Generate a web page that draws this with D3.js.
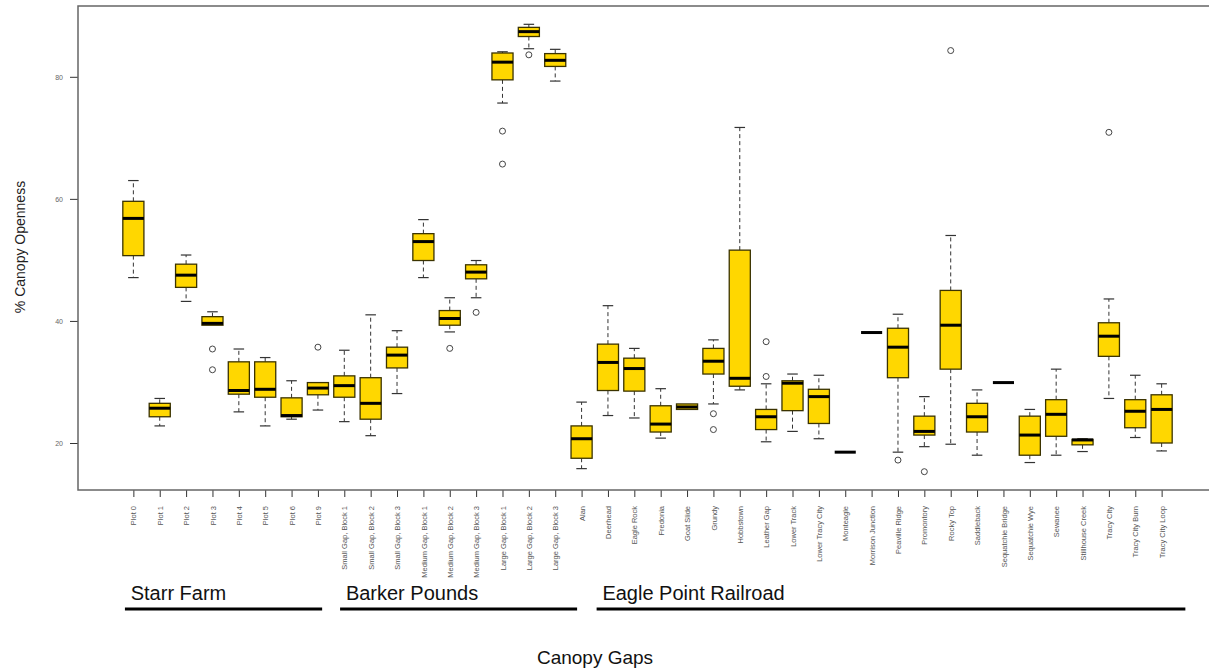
<!DOCTYPE html>
<html>
<head>
<meta charset="utf-8">
<script src="https://cdn.jsdelivr.net/npm/d3@7"></script>
<style>
  body { margin: 0; background: #fff; }
  svg { display: block; font-family: "Liberation Sans", Arial, sans-serif; }
</style>
</head>
<body>
<svg id="chart" width="1209" height="671"></svg>
<script>
const categories = ["Plot 0", "Plot 1", "Plot 2", "Plot 3", "Plot 4", "Plot 5", "Plot 6", "Plot 9",
  "Small Gap, Block 1", "Small Gap, Block 2", "Small Gap, Block 3",
  "Medium Gap, Block 1", "Medium Gap, Block 2", "Medium Gap, Block 3",
  "Large Gap, Block 1", "Large Gap, Block 2", "Large Gap, Block 3",
  "Alan", "Deerhead", "Eagle Rock", "Fredonia", "Goat Slide", "Grundy", "Hobbstown",
  "Leather Gap", "Lower Track", "Lower Tracy City", "Monteagle", "Morrison Junction",
  "Peaville Ridge", "Promontory", "Rocky Top", "Saddleback", "Sequatchie Bridge",
  "Sequatchie Wye", "Sewanee", "Stillhouse Creek", "Tracy City", "Tracy City Burn", "Tracy City Loop"]

const whiskerLow = [47.1, 22.8, 43.2, 39.3, 25.1, 22.8, 23.9, 25.4,
  23.5, 21.2, 28.1, 47.1, 38.2, 43.8, 75.7, 84.6, 79.3,
  15.8, 24.5, 24.1, 20.8, 25.5, 26.4, 28.7, 20.2, 21.9, 20.7, 18.5, 38.1,
  18.5, 19.4, 19.8, 18.0, 29.9, 16.8, 18.0, 18.6, 27.3, 20.9, 18.7]
const q1 = [50.7, 24.3, 45.5, 39.3, 28.0, 27.5, 24.3, 27.9,
  27.5, 23.9, 32.3, 49.9, 39.3, 46.9, 79.5, 86.6, 81.7,
  17.5, 28.6, 28.5, 21.8, 25.5, 31.3, 29.3, 22.2, 25.3, 23.2, 18.5, 38.1,
  30.7, 21.3, 32.1, 21.8, 29.9, 18.0, 21.1, 19.7, 34.2, 22.5, 20.0]
const medians = [56.8, 25.7, 47.5, 39.6, 28.6, 28.8, 24.5, 29.0,
  29.4, 26.5, 34.4, 53.0, 40.4, 48.0, 82.4, 87.4, 82.7,
  20.7, 33.2, 32.2, 23.1, 25.9, 33.4, 30.6, 24.3, 29.8, 27.6, 18.5, 38.1,
  35.7, 21.9, 39.3, 24.3, 29.9, 21.3, 24.7, 20.5, 37.5, 25.2, 25.5]
const q3 = [59.6, 26.5, 49.3, 40.7, 33.3, 33.3, 27.4, 29.9,
  31.0, 30.7, 35.7, 54.3, 41.7, 49.2, 83.9, 88.1, 83.8,
  22.8, 36.2, 33.9, 26.1, 26.4, 35.5, 51.6, 25.5, 30.2, 28.8, 18.5, 38.1,
  38.8, 24.4, 45.0, 26.5, 29.9, 24.4, 27.1, 20.6, 39.7, 27.1, 27.9]
const whiskerHigh = [63.0, 27.3, 50.8, 41.5, 35.4, 34.0, 30.2, 29.9,
  35.2, 41.0, 38.4, 56.6, 43.8, 49.9, 84.1, 88.6, 84.5,
  26.7, 42.5, 35.5, 28.9, 26.4, 36.9, 71.7, 29.7, 31.3, 31.1, 18.5, 38.1,
  41.1, 27.6, 54.0, 28.7, 29.9, 25.5, 32.1, 20.7, 43.6, 31.1, 29.7]
const outliers = [[], [], [], [35.4, 32.0], [], [], [], [35.7],
  [], [], [], [], [35.5], [41.4], [71.1, 65.7], [83.6], [],
  [], [], [], [], [], [24.8, 22.2], [], [36.6, 30.9], [], [], [], [],
  [17.2], [15.3], [84.3], [], [], [], [], [], [70.9], [], []]

const yTicks = [20, 40, 60, 80]

const groupNames = ["Starr Farm", "Barker Pounds", "Eagle Point Railroad"]
// underline extents in category-index units (hand drawn in the original)
const groupSpans = [[-0.32, 7.16], [7.84, 16.83], [17.57, 39.9]]

const svg = d3.select("#chart")
svg.append("rect").attr("width", 1209).attr("height", 671).attr("fill", "#fff")

const m = {left: 78, top: 6, right: 1217, bottom: 490}

const x = d3.scaleLinear().domain([-2.1, categories.length + 1.1]).range([m.left, m.right])
const y = d3.scaleLinear().domain([12.3, 91.6]).range([m.bottom, m.top])
const step = x(1) - x(0)
const boxW = step * 0.8

// axes
const xAxis = svg.append("g")
  .attr("transform", `translate(0,${m.bottom})`)
  .call(d3.axisBottom(x)
    .tickValues(d3.range(categories.length))
    .tickFormat(i => categories[i])
    .tickSize(7)
    .tickPadding(0))
xAxis.select(".domain").remove()
xAxis.selectAll(".tick line").attr("stroke", "#333")
xAxis.selectAll(".tick text")
  .attr("transform", "rotate(-90)")
  .attr("x", -16)
  .attr("y", 0)
  .attr("dy", "0.35em")
  .attr("text-anchor", "end")
  .attr("fill", "#555")
  .style("font-size", "7.5px")
  .style("font-family", "'Liberation Sans', Arial, sans-serif")

const yAxis = svg.append("g")
  .attr("transform", `translate(${m.left},0)`)
  .call(d3.axisLeft(y).tickValues(yTicks).tickSize(8).tickPadding(7))
yAxis.select(".domain").remove()
yAxis.selectAll(".tick line").attr("stroke", "#333")
yAxis.selectAll(".tick text")
  .attr("fill", "#666")
  .style("font-size", "7px")
  .style("font-family", "'Liberation Sans', Arial, sans-serif")

// plot frame
svg.append("rect")
  .attr("x", m.left).attr("y", m.top)
  .attr("width", m.right - m.left).attr("height", m.bottom - m.top)
  .attr("fill", "none").attr("stroke", "#666").attr("stroke-width", 1.5)

// boxes
const boxes = svg.append("g").selectAll("g")
  .data(categories.map((c, i) => i))
  .join("g")
  .attr("transform", i => `translate(${x(i)},0)`)

boxes.filter(i => whiskerHigh[i] > q3[i]).append("line")
  .attr("y1", i => y(q3[i])).attr("y2", i => y(whiskerHigh[i]))
  .attr("stroke", "#333").attr("stroke-dasharray", "4,3")
boxes.filter(i => whiskerLow[i] < q1[i]).append("line")
  .attr("y1", i => y(q1[i])).attr("y2", i => y(whiskerLow[i]))
  .attr("stroke", "#333").attr("stroke-dasharray", "4,3")
boxes.filter(i => whiskerHigh[i] > q3[i]).append("line")
  .attr("x1", -boxW / 4).attr("x2", boxW / 4)
  .attr("y1", i => y(whiskerHigh[i])).attr("y2", i => y(whiskerHigh[i]))
  .attr("stroke", "#333").attr("stroke-width", 1.2)
boxes.filter(i => whiskerLow[i] < q1[i]).append("line")
  .attr("x1", -boxW / 4).attr("x2", boxW / 4)
  .attr("y1", i => y(whiskerLow[i])).attr("y2", i => y(whiskerLow[i]))
  .attr("stroke", "#333").attr("stroke-width", 1.2)

boxes.append("rect")
  .attr("x", -boxW / 2).attr("width", boxW)
  .attr("y", i => y(q3[i]))
  .attr("height", i => y(q1[i]) - y(q3[i]))
  .attr("fill", "#FFD700")
  .attr("stroke", "#3b3300").attr("stroke-width", 1.3)

boxes.append("line")
  .attr("x1", -boxW / 2).attr("x2", boxW / 2)
  .attr("y1", i => y(medians[i])).attr("y2", i => y(medians[i]))
  .attr("stroke", "#000").attr("stroke-width", 3)

boxes.selectAll("circle")
  .data(i => outliers[i])
  .join("circle")
  .attr("cy", d => y(d)).attr("r", 3)
  .attr("fill", "none").attr("stroke", "#444").attr("stroke-width", 1)

// group labels and underlines
groupNames.forEach((name, g) => {
  const [a, b] = groupSpans[g]
  svg.append("line")
    .attr("x1", x(a)).attr("x2", x(b))
    .attr("y1", 609).attr("y2", 609)
    .attr("stroke", "#000").attr("stroke-width", 3)
  svg.append("text")
    .attr("x", x(a) + step * 0.22).attr("y", 600)
    .attr("font-size", 20).attr("fill", "#111")
    .text(name)
})

svg.append("text")
  .attr("x", 595).attr("y", 664)
  .attr("text-anchor", "middle")
  .attr("font-size", 19).attr("fill", "#111")
  .text("Canopy Gaps")

svg.append("text")
  .attr("transform", "translate(25,247) rotate(-90)")
  .attr("text-anchor", "middle")
  .attr("font-size", 14).attr("fill", "#222")
  .text("% Canopy Openness")
</script>
</body>
</html>
